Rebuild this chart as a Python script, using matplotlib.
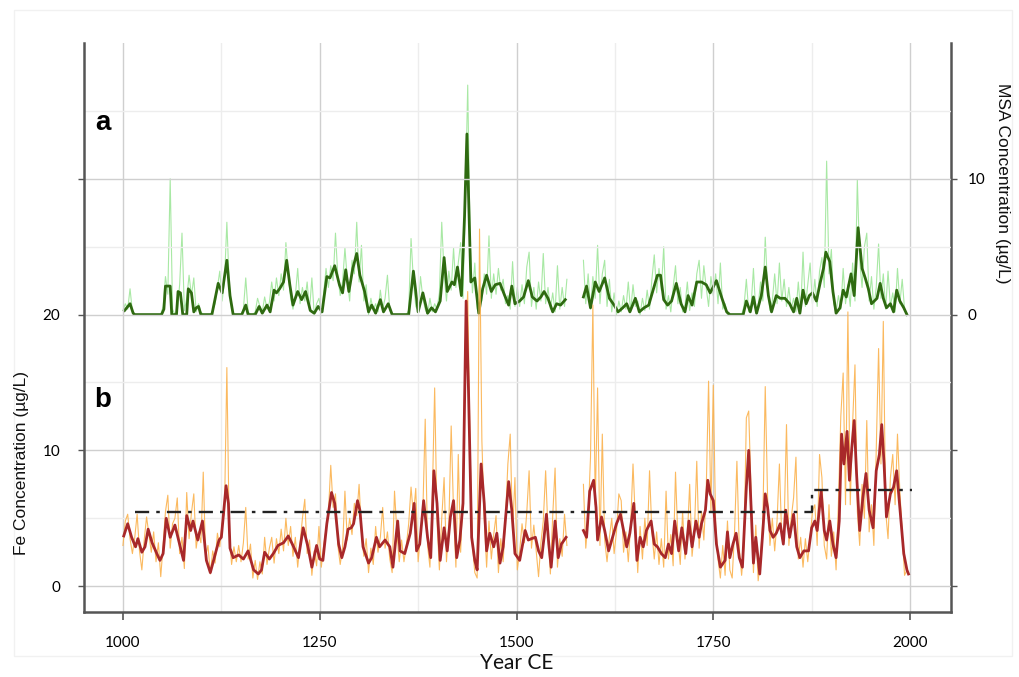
import numpy as np
import matplotlib
matplotlib.use("Agg")
import matplotlib.pyplot as plt
from matplotlib.patches import Rectangle

# ---------------- data ----------------
# Fe smoothed record (µg/L); NaN marks the data gap
fe_smooth_years = [1001, 1006, 1011, 1016, 1019, 1024, 1028, 1032, 1037, 1043, 1047, 1051, 1055, 1060,
                   1066, 1072, 1077, 1081, 1086, 1089, 1095, 1101, 1106, 1111, 1116, 1122, 1125, 1131,
                   1134, 1136, 1140, 1147, 1153, 1159, 1166, 1172, 1176, 1180, 1186, 1191, 1197, 1204,
                   1210, 1216, 1223, 1229, 1235, 1240, 1246, 1250, 1254, 1259, 1265, 1269, 1274, 1278,
                   1282, 1286, 1290, 1293, 1298, 1301, 1305, 1312, 1316, 1322, 1326, 1333, 1339, 1343,
                   1349, 1352, 1358, 1365, 1370, 1373, 1377, 1382, 1387, 1391, 1395, 1399, 1403, 1408,
                   1412, 1416, 1420, 1424, 1428, 1432, 1436, 1439, 1443, 1447, 1450, 1455, 1459, 1462,
                   1466, 1471, 1475, 1479, 1483, 1490, 1494, 1498, 1504, 1511, 1515, 1519, 1524, 1528,
                   1532, 1535, 1538, 1541, 1544, 1549, 1553, 1557, 1563, 1574,
                   1585, 1589, 1593, 1598, 1601, 1603, 1608, 1612, 1617, 1622, 1627, 1632, 1636, 1640,
                   1644, 1649, 1653, 1657, 1661, 1665, 1671, 1675, 1679, 1684, 1689, 1693, 1697, 1701,
                   1706, 1710, 1715, 1719, 1723, 1728, 1732, 1735, 1740, 1743, 1746, 1750, 1754, 1759,
                   1765, 1768, 1771, 1775, 1779, 1783, 1787, 1792, 1795, 1798, 1801, 1804, 1809, 1813,
                   1816, 1819, 1822, 1826, 1830, 1835, 1839, 1842, 1847, 1852, 1856, 1860, 1865, 1871,
                   1875, 1879, 1882, 1887, 1891, 1894, 1898, 1902, 1906, 1910, 1913, 1916, 1920, 1923,
                   1926, 1929, 1932, 1936, 1940, 1944, 1948, 1953, 1957, 1961, 1964, 1967, 1970, 1975,
                   1979, 1983, 1987, 1992, 1996, 1998]
fe_smooth_values = [3.7, 4.6, 3.6, 2.9, 3.5, 2.5, 2.9, 4.2, 3.2, 2.4, 1.9, 2.4, 5.0, 3.6,
                    4.5, 3.1, 1.9, 5.2, 4.1, 4.8, 3.4, 4.8, 1.9, 1.0, 2.1, 3.4, 3.6, 7.4,
                    6.1, 2.8, 2.1, 2.3, 2.0, 2.6, 1.2, 0.9, 1.2, 2.5, 2.0, 2.4, 3.0, 3.2,
                    3.7, 3.0, 2.1, 4.3, 2.9, 1.4, 3.0, 2.0, 1.9, 4.6, 6.9, 6.1, 3.1, 2.1,
                    2.9, 4.2, 4.3, 4.6, 6.3, 5.6, 2.9, 1.7, 2.1, 3.6, 2.9, 3.4, 2.9, 1.4,
                    4.8, 2.6, 2.4, 3.9, 6.1, 2.6, 3.1, 6.3, 3.6, 2.1, 8.5, 6.1, 1.9, 4.3,
                    2.6, 5.1, 6.3, 2.1, 3.4, 6.1, 21.0, 14.4, 3.6, 1.9, 1.2, 9.0, 6.1, 2.6,
                    3.9, 2.9, 3.9, 1.7, 2.9, 7.7, 5.6, 2.4, 1.9, 4.1, 3.4, 3.5, 3.6, 2.6,
                    2.1, 3.6, 5.3, 3.1, 1.4, 4.8, 2.1, 3.1, 3.6, np.nan,
                    4.1, 3.6, 7.0, 7.8, 5.8, 3.4, 5.1, 4.1, 2.6, 3.6, 4.6, 5.3, 4.1, 2.9,
                    3.9, 6.1, 1.9, 3.6, 2.9, 4.1, 4.8, 3.1, 2.9, 2.4, 2.1, 3.1, 2.4, 4.8,
                    2.6, 4.3, 2.4, 4.8, 2.9, 4.8, 3.6, 4.6, 5.6, 7.8, 6.8, 6.3, 3.1, 1.4,
                    1.9, 4.0, 2.1, 3.1, 3.9, 2.1, 1.4, 7.3, 10.0, 5.8, 1.7, 3.6, 0.9, 4.1,
                    6.8, 5.8, 4.1, 3.6, 3.9, 4.6, 3.1, 5.6, 3.6, 5.3, 2.9, 2.1, 2.6, 2.6,
                    4.3, 4.8, 4.1, 7.0, 4.1, 3.4, 4.8, 3.1, 2.1, 4.8, 11.2, 9.0, 11.4, 7.8,
                    10.2, 12.2, 8.3, 4.1, 6.5, 8.3, 5.6, 4.3, 8.5, 9.7, 11.9, 9.0, 5.1, 6.8,
                    7.3, 8.5, 5.8, 2.4, 1.2, 0.9]

# Fe annual record (µg/L), every 3 years, two segments around the gap
fe_raw_start_a, fe_raw_end_a = 1000, 1564
fe_raw_start_b, fe_raw_end_b = 1585, 1996
fe_raw_a = [3.0, 4.8, 5.3, 3.5, 2.4, 3.6, 5.3, 2.6, 1.2, 3.4,
            5.1, 3.8, 2.5, 4.0, 1.8, 3.2, 0.7, 3.0, 5.5, 6.7,
            2.8, 4.6, 5.0, 6.5, 2.4, 3.6, 1.3, 6.9, 3.5, 5.4,
            6.8, 2.8, 4.0, 3.2, 8.4, 2.2, 3.0, 0.9, 2.6, 1.7,
            3.9, 2.9, 4.6, 5.5, 16.1, 4.0, 1.6, 2.9, 1.8, 3.0,
            1.8, 3.2, 5.8, 2.0, 3.1, 0.6, 1.9, 0.5, 1.8, 0.9,
            3.6, 1.6, 2.8, 3.6, 1.7, 3.5, 2.4, 4.2, 2.6, 5.0,
            3.0, 4.4, 2.2, 3.6, 1.4, 3.2, 5.0, 6.4, 2.4, 3.4,
            0.8, 2.6, 1.5, 4.4, 1.4, 3.0, 4.2, 5.4, 8.9, 5.8,
            6.8, 3.0, 1.6, 2.8, 7.0, 3.4, 5.0, 3.8, 6.1, 5.2,
            7.5, 4.0, 2.2, 3.5, 1.0, 2.8, 1.6, 4.4, 2.5, 3.6,
            5.8, 2.8, 4.0, 2.0, 1.0, 7.0, 4.0, 1.8, 3.4, 1.8,
            3.0, 4.6, 7.3, 5.2, 7.2, 1.8, 3.8, 5.5, 12.3, 3.0,
            1.4, 6.5, 14.6, 4.8, 1.2, 5.0, 8.0, 1.8, 4.5, 11.8,
            5.5, 1.4, 9.7, 2.5, 7.0, 18.0, 21.7, 10.0, 3.0, 1.0,
            0.6, 26.3, 10.7, 5.0, 1.4, 4.8, 2.0, 3.8, 5.2, 1.0,
            3.5, 1.8, 5.0, 9.0, 11.2, 4.0, 8.0, 1.2, 2.6, 4.6,
            3.2, 5.4, 8.5, 2.8, 4.5, 2.6, 0.7, 3.2, 4.8, 8.5,
            4.0, 0.9, 5.2, 8.7, 1.4, 3.5, 2.2, 5.3, 3.0]
fe_raw_b = [7.5, 2.8, 5.0, 9.5, 20.7, 6.0, 14.6, 3.0, 11.2, 3.4,
            1.8, 3.6, 5.0, 2.4, 4.0, 6.8, 6.3, 2.5, 4.0, 1.8,
            4.5, 9.0, 4.8, 1.0, 4.4, 2.0, 5.0, 3.0, 8.5, 4.0,
            2.0, 4.0, 1.6, 3.5, 1.4, 7.0, 2.0, 3.8, 1.5, 8.4,
            3.5, 1.6, 5.5, 2.0, 3.6, 7.5, 2.2, 4.0, 9.2, 2.8,
            5.5, 3.4, 7.0, 15.1, 5.5, 14.8, 4.5, 2.0, 0.6, 3.0,
            0.8, 4.8, 1.2, 0.6, 4.0, 9.2, 2.8, 0.8, 3.0, 12.4,
            12.9, 7.0, 1.0, 4.5, 0.4, 2.0, 5.0, 14.7, 6.5, 3.0,
            5.0, 2.6, 4.8, 9.0, 3.5, 4.5, 11.9, 3.0, 5.0, 6.5,
            9.5, 2.0, 3.6, 1.4, 3.5, 1.8, 3.6, 5.5, 6.0, 3.0,
            9.7, 8.0, 3.0, 2.0, 6.0, 2.2, 4.0, 1.2, 6.2, 12.5,
            15.7, 6.0, 20.2, 6.0, 12.0, 16.3, 5.5, 3.0, 7.5, 5.0,
            12.2, 4.0, 6.0, 3.0, 10.0, 17.5, 9.0, 19.5, 5.5, 3.5,
            8.0, 9.7, 6.0, 11.2, 7.0, 4.0, 0.8, 1.2]

# MSA smoothed record (µg/L)
msa_smooth_years = [1002, 1009, 1013, 1015, 1049, 1052, 1054, 1060, 1062, 1068, 1070, 1073, 1076, 1081,
                    1083, 1087, 1090, 1093, 1096, 1099, 1113, 1121, 1126, 1132, 1136, 1140, 1151, 1156,
                    1159, 1168, 1173, 1177, 1183, 1187, 1192, 1195, 1199, 1204, 1208, 1212, 1216, 1222,
                    1227, 1232, 1238, 1243, 1248, 1253, 1259, 1263, 1269, 1275, 1279, 1283, 1287, 1292,
                    1297, 1301, 1307, 1312, 1316, 1321, 1327, 1331, 1337, 1342, 1363, 1369, 1375, 1381,
                    1387, 1392, 1397, 1403, 1408, 1412, 1418, 1421, 1425, 1430, 1434, 1437, 1440, 1442,
                    1447, 1452, 1457, 1462, 1468, 1473, 1479, 1485, 1490, 1494, 1498, 1504, 1509, 1515,
                    1520, 1526, 1531, 1535, 1540, 1546, 1551, 1556, 1562, 1574,
                    1585, 1589, 1594, 1600, 1605, 1612, 1618, 1624, 1629, 1635, 1640, 1644, 1651, 1656,
                    1662, 1668, 1674, 1679, 1683, 1687, 1692, 1697, 1703, 1709, 1714, 1718, 1723, 1729,
                    1735, 1741, 1746, 1754, 1761, 1767, 1771, 1788, 1792, 1797, 1801, 1805, 1811, 1816,
                    1820, 1824, 1830, 1835, 1841, 1847, 1852, 1856, 1860, 1864, 1868, 1872, 1876, 1881,
                    1886, 1890, 1893, 1898, 1902, 1906, 1911, 1915, 1919, 1925, 1929, 1934, 1939, 1943,
                    1947, 1951, 1958, 1962, 1966, 1970, 1975, 1979, 1983, 1987, 1992, 1996]
msa_smooth_values = [0.3, 0.8, 0.1, 0.0, 0.0, 0.4, 2.1, 2.1, 0.0, 0.0, 1.7, 1.6, 0.0, 0.0,
                     1.9, 1.6, 0.2, 0.5, 0.6, 0.0, 0.0, 2.3, 1.6, 4.0, 1.4, 0.0, 0.0, 0.7,
                     0.0, 0.0, 0.6, 0.1, 0.7, 0.2, 1.8, 1.6, 1.9, 2.4, 4.0, 2.2, 0.7, 1.7,
                     1.1, 1.7, 0.3, 0.1, 0.6, 0.2, 2.8, 2.7, 3.6, 2.2, 1.6, 3.3, 1.7, 3.4,
                     4.5, 2.9, 1.7, 0.2, 0.7, 0.1, 1.1, 0.2, 0.8, 0.0, 0.0, 3.2, 0.2, 1.6,
                     0.1, 0.5, 0.2, 1.0, 4.2, 1.7, 2.4, 2.2, 3.5, 1.4, 7.3, 13.3, 6.8, 2.4,
                     2.7, 0.1, 1.9, 2.9, 1.7, 2.2, 2.3, 1.4, 0.7, 2.1, 0.8, 1.0, 1.3, 2.5,
                     1.3, 1.0, 1.3, 1.7, 1.2, 0.2, 0.8, 0.7, 1.1, np.nan,
                     1.3, 2.1, 0.5, 2.4, 1.7, 2.7, 1.2, 0.7, 0.2, 0.5, 0.8, 0.2, 1.2, 0.2,
                     0.5, 0.7, 1.9, 2.9, 2.9, 1.1, 0.7, 1.0, 2.3, 0.8, 0.2, 1.4, 0.7, 2.4,
                     2.4, 2.2, 1.6, 2.5, 1.2, 0.2, 0.0, 0.0, 1.0, 0.2, 1.3, 0.1, 1.4, 3.5,
                     1.4, 0.2, 1.4, 1.2, 1.2, 0.8, 0.2, 1.2, 0.1, 1.8, 0.8, 1.4, 1.6, 1.0,
                     2.4, 3.4, 4.6, 3.9, 1.7, 0.1, 0.5, 1.8, 1.3, 3.0, 1.4, 6.4, 3.4, 2.7,
                     1.9, 0.8, 1.2, 2.3, 1.2, 0.5, 0.8, 0.2, 1.8, 1.0, 0.5, 0.0]

# MSA annual record (µg/L), every 3 years, two segments
msa_raw_a = [0.3, 0.8, 0.4, 1.9, 0.2, 0.0, 0.0, 0.0, 0.0, 0.0,
             0.0, 0.0, 0.0, 0.0, 0.0, 0.0, 0.0, 0.6, 2.8, 1.5,
             10.0, 0.4, 0.0, 0.2, 2.2, 6.0, 0.3, 1.2, 2.9, 1.4,
             2.7, 0.2, 0.8, 0.2, 0.0, 0.0, 0.0, 0.0, 0.3, 0.8,
             2.0, 3.2, 1.0, 2.5, 6.8, 2.2, 0.4, 0.0, 0.0, 0.0,
             0.0, 0.4, 2.7, 0.2, 0.0, 0.0, 0.2, 1.2, 0.6, 0.2,
             1.3, 0.4, 0.9, 2.4, 1.0, 2.7, 1.4, 3.0, 1.8, 5.3,
             3.0, 1.2, 0.4, 1.4, 3.4, 0.8, 2.0, 1.0, 2.4, 0.3,
             2.7, 0.0, 0.8, 1.2, 0.1, 1.6, 3.4, 2.0, 3.6, 2.5,
             6.0, 2.8, 1.4, 2.4, 4.9, 2.6, 1.0, 4.0, 3.0, 6.8,
             2.4, 5.1, 1.0, 2.2, 0.0, 1.2, 0.3, 0.8, 0.2, 1.8,
             0.4, 1.2, 2.9, 0.3, 0.0, 0.0, 0.0, 0.0, 0.0, 0.0,
             0.0, 0.3, 5.6, 2.5, 0.6, 0.3, 2.8, 1.2, 0.4, 0.0,
             1.2, 0.2, 0.8, 0.4, 1.6, 6.8, 3.0, 1.0, 3.2, 1.8,
             4.9, 2.0, 3.8, 5.3, 1.2, 8.5, 16.9, 5.5, 1.6, 3.8,
             0.4, 2.2, 1.0, 3.0, 1.5, 5.8, 1.2, 3.0, 1.5, 3.4,
             1.8, 2.6, 0.8, 1.4, 0.4, 3.9, 0.6, 2.0, 0.6, 2.2,
             0.8, 3.5, 4.6, 0.6, 2.0, 0.4, 2.4, 1.0, 4.5, 0.8,
             2.0, 0.4, 1.6, 0.2, 3.6, 0.4, 2.0, 0.6, 2.6]
msa_raw_b = [4.0, 0.8, 3.0, 0.4, 2.8, 1.2, 5.1, 0.8, 3.0, 4.0,
             0.6, 2.6, 0.2, 1.6, 0.0, 1.0, 0.2, 1.4, 0.4, 2.4,
             0.2, 2.2, 0.6, 1.0, 0.0, 1.2, 0.3, 1.8, 0.4, 2.6,
             4.4, 1.6, 3.4, 1.8, 5.0, 0.4, 1.4, 0.2, 2.0, 3.6,
             0.8, 2.0, 0.2, 0.6, 2.4, 0.3, 1.6, 0.6, 3.0, 4.0,
             1.2, 3.6, 2.0, 0.6, 2.8, 1.4, 3.0, 0.8, 3.8, 0.4,
             0.8, 0.0, 0.0, 0.0, 0.0, 0.0, 0.0, 0.0, 0.6, 2.6,
             0.2, 0.6, 3.4, 0.2, 0.6, 2.4, 1.0, 5.7, 2.0, 0.3,
             1.0, 3.0, 0.8, 3.8, 1.0, 2.6, 0.6, 2.0, 0.4, 1.2,
             0.2, 2.4, 0.2, 4.6, 0.6, 2.2, 3.8, 0.8, 2.6, 0.6,
             3.2, 4.2, 2.0, 11.3, 3.0, 4.8, 0.8, 0.2, 1.4, 0.4,
             3.4, 0.8, 2.2, 0.6, 3.8, 1.0, 9.9, 4.0, 2.0, 5.0,
             6.0, 1.0, 2.8, 0.4, 2.0, 5.2, 1.2, 3.0, 0.4, 3.2,
             0.6, 1.6, 0.2, 3.4, 0.8, 2.6, 0.4, 0.0]

# reference levels of Fe (dash-dot)
fe_level_years = [1015, 1875, 1875, 2003]
fe_level_values = [5.5, 5.5, 7.1, 7.1]

x_ticks = [1000, 1250, 1500, 1750, 2000]
x_minor = [1125, 1375, 1625, 1875]
fe_ticks = [0, 10, 20, 30]
fe_tick_labels = ["0", "10", "20", ""]
msa_ticks = [-20, -10, 0, 10]
msa_tick_labels = ["", "", "0", "10"]

# ---------------- assemble raw series (gap as NaN) ----------------
raw_years = np.concatenate([np.arange(fe_raw_start_a, fe_raw_end_a + 1, 3), [1574],
                            np.arange(fe_raw_start_b, fe_raw_end_b + 1, 3)])
fe_raw = np.concatenate([fe_raw_a, [np.nan], fe_raw_b])
msa_raw = np.concatenate([msa_raw_a, [np.nan], msa_raw_b])

# ---------------- figure ----------------
W, H = 1020, 677
fig = plt.figure(figsize=(W / 100, H / 100), dpi=100)
fig.patch.set_facecolor("white")
fig.add_artist(Rectangle((14 / W, 1 - 656 / H), (1012 - 14) / W, (656 - 10) / H,
                         transform=fig.transFigure, fill=False, edgecolor="#f1f1f1", lw=1))

ax = fig.add_axes([84 / W, 1 - 612 / H, (951 - 84) / W, (612 - 43) / H])
ax.set_xlim(950.5, 2052)
ax.set_ylim(-1.9, 40)
ax2 = ax.twinx()
ax2.set_ylim(-21.9, 20)

# grid
ax.set_xticks(x_ticks)
ax.set_xticks(x_minor, minor=True)
ax.set_yticks(fe_ticks)
ax.set_yticks([5, 15, 25, 35], minor=True)
ax.grid(which="major", color="#cfcfcf", lw=1.0, zorder=0)
ax.grid(which="minor", color="#ededed", lw=1.0, zorder=0)
ax.set_axisbelow(True)

# MSA
ax2.plot(raw_years, msa_raw, color="#9fe69a", lw=0.8, alpha=0.9, zorder=1)
ax2.plot(msa_smooth_years, msa_smooth_values, color="#2e6a10", lw=2.0, zorder=2,
         solid_joinstyle="round")

# Fe
ax.plot(raw_years, fe_raw, color="#fbb24e", lw=0.8, alpha=0.9, zorder=3)
ax.plot(fe_smooth_years, fe_smooth_values, color="#a8282a", lw=2.0, zorder=4,
        solid_joinstyle="round")
ax.plot(fe_level_years, fe_level_values, color="#222222", lw=1.7,
        linestyle=(0, (6, 3, 1.5, 3)), zorder=5)
ax.set_zorder(ax2.get_zorder() + 1)
ax.patch.set_visible(False)

# ticks
tick_font = {"family": ["Lato", "DejaVu Sans"], "size": 11}
ax.set_xticklabels([str(t) for t in x_ticks], fontdict=tick_font)
ax.set_yticklabels(fe_tick_labels, fontdict=tick_font)
ax.tick_params(axis="x", which="major", direction="out", length=6, width=1.2,
               color="#555555", pad=11)
ax.tick_params(axis="y", which="major", direction="out", length=4, width=1.0,
               color="#555555", pad=13)
ax.tick_params(which="minor", length=0)
ax2.set_yticks(msa_ticks)
ax2.set_yticklabels(msa_tick_labels, fontdict=tick_font)
ax2.tick_params(axis="y", direction="out", length=4, width=1.0, color="#555555", pad=8)

for a in (ax, ax2):
    a.spines["top"].set_visible(False)
    for s in ("left", "right", "bottom"):
        a.spines[s].set_color("#555555")
        a.spines[s].set_linewidth(1.8)
ax.spines["right"].set_visible(False)
ax2.spines["left"].set_visible(False)
ax2.spines["bottom"].set_visible(False)

# labels
lab_font = ["Liberation Sans", "DejaVu Sans"]
fig.text(22 / W, 1 - 463 / H, "Fe Concentration (µg/L)", rotation=90, ha="center",
         va="center", fontsize=12.5, family=lab_font, color="#111111")
fig.text(1003 / W, 1 - 183 / H, "MSA Concentration (µg/L)", rotation=270, ha="center",
         va="center", fontsize=12.5, family=lab_font, color="#111111")
fig.text(517 / W, 1 - 663 / H, "Year CE", ha="center", va="center", fontsize=15,
         family=["Lato", "DejaVu Sans"], color="#111111")
fig.text(103 / W, 1 - 123 / H, "a", ha="center", va="center", fontsize=20,
         weight="bold", family=lab_font)
fig.text(103 / W, 1 - 400 / H, "b", ha="center", va="center", fontsize=20,
         weight="bold", family=lab_font)

fig.savefig("out.png", dpi=100, facecolor="white")
